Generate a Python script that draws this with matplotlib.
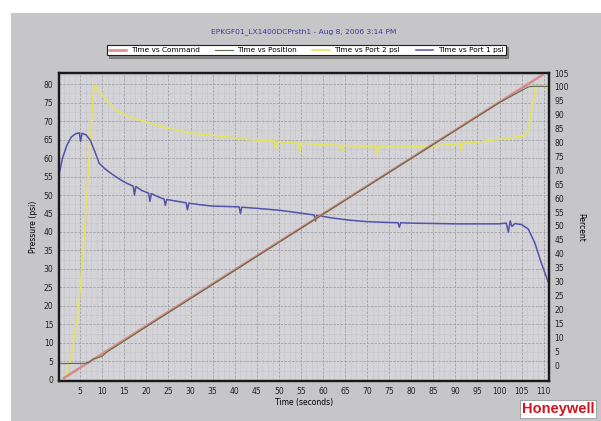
import matplotlib
matplotlib.use("Agg")
import matplotlib.pyplot as plt
from matplotlib.patches import Rectangle
from matplotlib.ticker import MultipleLocator, AutoMinorLocator

# --- Data ---
title = "EPKGF01_LX1400DCPrsth1 - Aug 8, 2006 3:14 PM"

# Port 1 pressure (psi, left axis)
t_port1 = [0.3, 1.0, 2.0, 3.0, 4.0, 4.8, 5.1, 5.4, 6.3, 7.3, 8.3, 9.3, 10.5, 11.8, 13.0,
           15.0, 17.0, 17.3, 17.6, 19.0, 20.5, 20.8, 21.1, 22.5, 24.0, 24.3, 24.6, 27.0,
           29.0, 29.3, 29.6, 32.0, 35.0, 38.0, 41.0, 41.3, 41.6, 45.0, 50.0, 55.0, 58.0,
           58.3, 58.6, 62.0, 66.0, 70.0, 74.0, 77.0, 77.3, 77.6, 80.0, 85.0, 90.0, 95.0,
           100.0, 101.5, 102.0, 102.4, 102.8, 103.5, 105.0, 106.5, 108.0, 109.5, 111.0]
p_port1 = [56.0, 60.0, 63.5, 65.7, 66.6, 66.8, 64.5, 66.7, 66.3, 64.8, 61.8, 58.6, 57.2,
           56.0, 55.0, 53.5, 52.4, 50.0, 52.3, 51.2, 50.5, 48.3, 50.4, 49.6, 48.9, 47.2,
           48.8, 48.3, 47.9, 46.0, 47.8, 47.4, 47.0, 46.9, 46.8, 45.0, 46.7, 46.4, 45.9,
           45.1, 44.6, 43.0, 44.5, 43.8, 43.2, 42.8, 42.6, 42.5, 41.3, 42.5, 42.4, 42.3,
           42.2, 42.2, 42.2, 42.4, 40.0, 43.0, 41.5, 42.3, 42.0, 40.8, 37.0, 31.5, 26.5]

# Port 2 pressure (psi, left axis)
t_port2 = [1.4, 2.5, 3.5, 4.8, 5.8, 6.6, 7.4, 8.0, 8.3, 9.0, 10.0, 11.5, 13.0, 15.0, 17.5,
           20.5, 24.0, 28.0, 32.0, 36.0, 40.0, 43.0, 46.0, 49.0, 49.3, 49.6, 52.0, 54.5,
           54.8, 55.1, 58.0, 61.0, 64.0, 64.3, 64.6, 68.0, 72.0, 72.3, 72.6, 76.0, 80.0,
           84.0, 88.0, 91.0, 91.3, 91.6, 95.0, 98.0, 101.0, 103.5, 105.5, 106.5, 107.3,
           108.2, 109.5, 111.0]
p_port2 = [0.5, 4.0, 10.0, 21.6, 37.0, 52.0, 67.0, 78.0, 79.7, 78.5, 77.0, 75.0, 73.0,
           71.8, 70.6, 69.6, 68.3, 67.3, 66.5, 66.0, 65.5, 65.0, 64.8, 64.6, 62.5, 64.5,
           64.3, 64.0, 61.5, 64.0, 63.8, 63.6, 63.4, 61.8, 63.4, 63.2, 63.0, 61.0, 63.0,
           63.0, 63.0, 63.2, 63.5, 64.0, 62.0, 64.0, 64.3, 64.8, 65.2, 65.6, 66.0, 67.5,
           73.0, 79.0, 79.6, 79.5]

# Command and position (percent, right axis)
t_command = [1.3, 109.7]
p_command = [-4.7, 104.3]
t_position = [0.3, 6.0, 7.0, 8.0, 9.0, 10.0, 11.0, 20.0, 40.0, 60.0, 80.0, 100.0,
              106.5, 107.5, 111.0]
p_position = [0.5, 0.6, 1.0, 2.2, 2.6, 3.2, 4.6, 13.8, 34.0, 54.2, 74.3, 94.4,
              100.0, 100.2, 100.2]

x_ticks = list(range(5, 111, 5))
left_ticks = list(range(0, 81, 5))
right_ticks = list(range(0, 106, 5))

# --- Figure ---
W, H = 601, 421
fig = plt.figure(figsize=(W / 100, H / 100), dpi=100, facecolor="white")
fig.patches.append(Rectangle((11 / W, 0), 1 - 11 / W, 1 - 13 / H, transform=fig.transFigure,
                             facecolor="#c6c6c8", edgecolor="none", zorder=-10))

ax = fig.add_axes([59 / W, 1 - 381 / H, 490 / W, 308 / H])
ax.set_facecolor("#d4d4d8")
ax2 = ax.twinx()

ax.set_xlim(0.2, 111.2)
ax.set_ylim(-0.3, 83)
ax2.set_ylim(-5.75, 105)

# grid
ax.xaxis.set_major_locator(MultipleLocator(5))
ax.yaxis.set_major_locator(MultipleLocator(5))
ax.xaxis.set_minor_locator(AutoMinorLocator(4))
ax.yaxis.set_minor_locator(AutoMinorLocator(2))
ax.grid(which="major", color="#a0a0a6", linestyle=(0, (3, 1.5)), linewidth=0.6)
ax.grid(which="minor", color="#b8b8be", linestyle=(0, (1, 1.5)), linewidth=0.5)
ax.set_axisbelow(True)

ax.plot(t_port2, p_port2, color="#e4e45c", linewidth=1.2, label="Time vs Port 2 psi", zorder=3)
ax.plot(t_port1, p_port1, color="#5252a8", linewidth=1.1, label="Time vs Port 1 psi", zorder=3)
ax2.plot(t_command, p_command, color="#d88a86", linewidth=1.8, label="Time vs Command")
ax2.plot(t_position, p_position, color="#5c6e48", linewidth=0.8, label="Time vs Position")

ax.set_xticks(x_ticks)
ax.set_yticks(left_ticks)
ax2.set_yticks(right_ticks)
for a in (ax, ax2):
    a.tick_params(which="both", length=0, labelsize=5.5, pad=4, labelcolor="#202020")
    for s in a.spines.values():
        s.set_linewidth(1.6)
        s.set_color("#1a1a1a")

ax.set_xlabel("Time (seconds)", fontsize=5.5, labelpad=2)
ax.set_ylabel("Pressure (psi)", fontsize=5.5, labelpad=4)
ax2.set_ylabel("Percent", fontsize=5.5, rotation=270, labelpad=12)

fig.text(304 / W, 1 - 32 / H, title, ha="center", va="center", fontsize=5.4, color="#3a3aa0")

h2, l2 = ax2.get_legend_handles_labels()
h1, l1 = ax.get_legend_handles_labels()
leg = fig.legend(h2 + h1, l2 + l1, ncol=4, loc="center", bbox_to_anchor=(306 / W, 1 - 50 / H),
                 fontsize=5.3, frameon=True, fancybox=False, shadow=True, handlelength=2.4,
                 columnspacing=2.1, borderpad=0.3, handletextpad=0.6)
leg.get_frame().set_edgecolor("#202020")
leg.get_frame().set_linewidth(0.8)
leg.get_frame().set_facecolor("white")

fig.text(558 / W, 1 - 409 / H, "Honeywell", ha="center", va="center", fontsize=10.5,
         fontweight="bold", color="#d4141e", family="Liberation Sans",
         bbox=dict(boxstyle="square,pad=0.15", facecolor="white", edgecolor="#888888", linewidth=0.5))

fig.savefig("out.png", dpi=100, facecolor=fig.get_facecolor())
